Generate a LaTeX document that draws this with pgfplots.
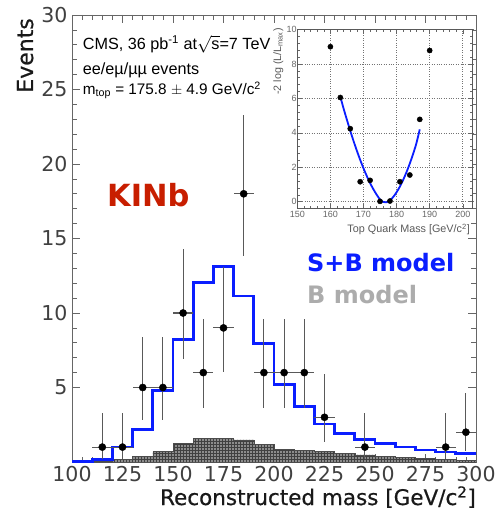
\documentclass[border=0pt]{standalone}
\usepackage{fontspec}
\setmainfont{DejaVu Sans}
\newfontfamily\helv{Liberation Sans}
\newfontfamily\labelfont[FakeBold=0.6]{DejaVu Sans}
\usepackage{pgfplots}
\usepackage{pgfplotstable}
\pgfplotsset{compat=1.18}
\usetikzlibrary{patterns}

\definecolor{kinred}{RGB}{200,30,0}
\definecolor{sbblue}{RGB}{10,30,255}
\definecolor{bgray}{RGB}{172,172,172}

% observed events per 10 GeV bin, with Poisson (Garwood) uncertainties
\pgfplotstableread{
x   y   ex  eyp    eym
115 1   5   2.300  0.827
125 1   5   2.300  0.827
135 5   5   3.382  2.160
145 5   5   3.382  2.160
155 10  5   4.270  3.109
165 6   5   3.584  2.380
175 9   5   4.100  2.940
185 18  5   5.320  4.200
195 6   5   3.584  2.380
205 6   5   3.584  2.380
215 6   5   3.584  2.380
225 3   5   2.918  1.633
245 1   5   2.300  0.827
285 1   5   2.300  0.827
295 2   5   2.638  1.292
}\datatable

% signal + background expectation (left bin edges)
\pgfplotstableread{
x   y
100 0.02
110 0.15
120 1.00
130 2.20
140 4.78
150 8.23
160 12.03
170 13.10
180 11.14
190 7.96
200 5.20
210 3.74
220 2.55
230 1.92
240 1.52
250 1.23
260 1.01
270 0.81
280 0.67
290 0.58
300 0.58
}\sbtable

% background-only expectation (left bin edges)
\pgfplotstableread{
x   y
100 0.00
110 0.08
120 0.18
130 0.40
140 0.69
150 1.25
160 1.57
170 1.57
180 1.48
190 1.19
200 0.85
210 0.78
220 0.69
230 0.58
240 0.47
250 0.36
260 0.31
270 0.25
280 0.18
290 0.13
300 0.13
}\bgtable

% likelihood scan points
\pgfplotstableread{
m   v
160 9.00
163 6.05
166 4.24
169 1.16
172 1.24
175 0.02
178 0.04
181 1.16
184 1.55
187 4.78
190 8.78
}\scantable

% fitted curve through the scan
\pgfplotstableread{
m   v
163 6.10
164 5.40
165 4.75
166 4.12
167 3.52
168 2.96
169 2.43
170 1.94
171 1.49
172 1.08
173 0.72
174 0.40
175 0.13
176 -0.02
177 -0.03
178 0.08
179 0.28
180 0.55
181 0.88
182 1.27
183 1.72
184 2.22
185 2.78
186 3.40
187 4.20
}\fittable

\begin{document}
\begin{tikzpicture}[x=1pt,y=1pt]
\path[use as bounding box] (-72pt,-51pt) rectangle (423pt,462pt);

\begin{axis}[
  at={(0pt,0pt)}, anchor=south west,
  scale only axis, width=404pt, height=447pt,
  xmin=100, xmax=300, ymin=0, ymax=30,
  xtick={100,125,...,300}, minor x tick num=4,
  ytick={5,10,...,30}, minor y tick num=4,
  tick align=inside,
  major tick length=8pt, minor tick length=5pt,
  every tick/.style={black!60, line width=0.6pt},
  axis line style={black!60, line width=0.8pt},
  tick label style={font=\fontsize{20.5}{22}\selectfont, text=black!75},
  /pgf/number format/assume math mode=true,
  /pgf/number format/1000 sep={},
  xticklabel style={yshift=-1pt},
  yticklabel style={xshift=-1pt},
]
  \addplot[const plot, fill=black!45, draw=none] table[x=x,y=y] {\bgtable} \closedcycle;
  \addplot[const plot, pattern=grid, pattern color=black!75, draw=black!70, line width=0.5pt] table[x=x,y=y] {\bgtable} \closedcycle;
  \addplot[const plot, sbblue, line width=2.8pt] table[x=x,y=y] {\sbtable};
  \addplot[only marks, mark=*, mark size=3.6pt, black,
    error bars/.cd, x dir=both, x explicit, y dir=both, y explicit,
    error mark=none, error bar style={black!65, line width=1.1pt}]
    table[x=x, y=y, x error=ex, y error plus=eyp, y error minus=eym] {\datatable};
\end{axis}

% axis titles
\node[rotate=90, anchor=base east, inner sep=0pt, text=black!90, font=\labelfont\fontsize{22}{24}\selectfont] at (-39pt,444pt) {Events};
\node[anchor=base east, inner sep=0pt, text=black!90, font=\labelfont\fontsize{21.5}{24}\selectfont] at (404pt,-43pt) {Reconstructed mass [GeV/c\textsuperscript{2}]};

% info block
\begin{scope}[every node/.style={anchor=base west, inner sep=0pt, font=\helv\fontsize{16.2}{18}\selectfont}]
  \node at (10.7pt,412.5pt) {CMS, 36 pb\textsuperscript{-1} at$\sqrt{\mbox{s}}$=7 TeV};
  \node at (10.7pt,387pt) {ee/e\textmu/\textmu\textmu\ events};
  \node[font=\helv\fontsize{15.3}{18}\selectfont] at (10.7pt,367.7pt) {m\textsubscript{top} =\ 175.8 $\pm$ 4.9 GeV/c\textsuperscript{2}};
\end{scope}

\node[anchor=base west, inner sep=0pt, text=kinred, font=\bfseries\fontsize{30.5}{32}\selectfont] at (35pt,255pt) {KINb};
\node[anchor=base west, inner sep=0pt, text=sbblue, font=\bfseries\fontsize{24}{26}\selectfont] at (235pt,190pt) {S+B model};
\node[anchor=base west, inner sep=0pt, text=bgray, font=\bfseries\fontsize{24}{26}\selectfont] at (235pt,158.7pt) {B model};

% likelihood scan inset
\begin{axis}[
  at={(225.3pt,253.4pt)}, anchor=south west,
  scale only axis, width=175.4pt, height=179.1pt,
  xmin=150, xmax=203, ymin=-0.4, ymax=10,
  xtick={150,160,...,200}, minor x tick num=4,
  ytick={0,2,...,10}, minor y tick num=4,
  tick align=inside,
  major tick length=5pt, minor tick length=2.5pt,
  every tick/.style={black!60, line width=0.5pt},
  axis line style={black!65, line width=0.7pt},
  axis background/.style={fill=white},
  grid=major,
  major grid style={black!55, dotted, line width=0.6pt},
  tick label style={font=\helv\fontsize{9}{10}\selectfont, text=black!60},
  /pgf/number format/assume math mode=true,
  xticklabel style={yshift=0.5pt},
  yticklabel style={inner xsep=0.5pt},
]
  \addplot[sbblue, line width=1.8pt, smooth] table[x=m,y=v] {\fittable};
  \addplot[only marks, mark=*, mark size=2.6pt, black] table[x=m,y=v] {\scantable};
\end{axis}
\node[rotate=90, anchor=base east, inner sep=0pt, text=black!65, font=\helv\fontsize{10.7}{12}\selectfont] at (209pt,434pt) {-2 log (L/L\textsubscript{max})};
\node[anchor=base east, inner sep=0pt, text=black!65, font=\helv\fontsize{10.8}{12}\selectfont] at (398pt,229pt) {Top Quark Mass [GeV/c\textsuperscript{2}]};
\end{tikzpicture}
\end{document}
